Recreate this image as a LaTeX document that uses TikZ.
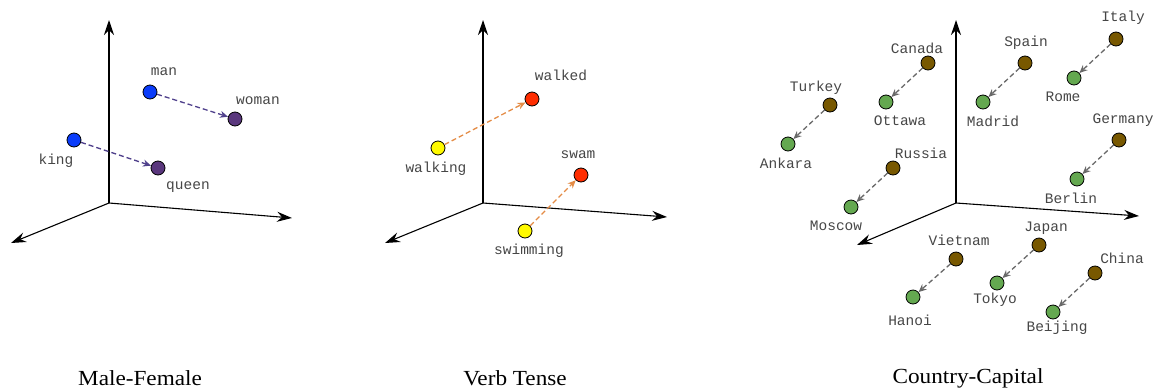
\documentclass[tikz,border=0pt]{standalone}
\usepackage{fontspec}
\setmainfont{Liberation Serif}
\newfontfamily\courierfont{Liberation Mono}
\usetikzlibrary{arrows.meta}
\definecolor{kblue}{RGB}{10,60,250}
\definecolor{kpurple}{RGB}{90,55,125}
\definecolor{karrowA}{RGB}{80,65,140}
\definecolor{kyellow}{RGB}{255,250,0}
\definecolor{kred}{RGB}{255,45,0}
\definecolor{korange}{RGB}{228,140,70}
\definecolor{kbrown}{RGB}{120,88,0}
\definecolor{kgreen}{RGB}{100,168,80}
\definecolor{kgray}{RGB}{105,105,105}
\definecolor{ktext}{RGB}{70,70,70}
\newcommand\ktitle[1]{\scalebox{1.08}[1]{#1}}
\tikzset{
  dot/.style={circle,draw=black,line width=0.8pt,minimum size=14pt,inner sep=0pt},
  word/.style={font=\courierfont\fontsize{14.5}{16}\selectfont,text=ktext,inner sep=0pt},
  title/.style={font=\fontsize{21.5}{24}\selectfont,inner sep=0pt},
  axis/.style={line width=1.1pt,-{Stealth[length=15pt,width=10pt,inset=5pt]}},
  vec/.style={dashed,dash pattern=on 5pt off 3pt,line width=1.3pt,-{Stealth[length=8pt,width=7pt]}},
}
\begin{document}
\begin{tikzpicture}[x=1pt,y=-1pt]
\useasboundingbox (0,0) rectangle (1157,389);
% ---------- Panel 1 ----------
\coordinate (o1) at (109,203);
\coordinate (u1) at (109,20);
\coordinate (r1) at (292,218);
\coordinate (l1) at (11,243);
\draw[axis] (o1) -- (u1);
\draw[axis] (o1) -- (r1);
\draw[axis] (o1) -- (l1);
\node[dot,fill=kblue] (man) at (150,92) {};
\node[dot,fill=kpurple] (woman) at (235,119) {};
\node[dot,fill=kblue] (king) at (74,140) {};
\node[dot,fill=kpurple] (queen) at (158,168) {};
\node[word] (tman) at (164,72) {man};
\node[word] (twoman) at (258,101) {woman};
\node[word] (tking) at (56,161) {king};
\node[word] (tqueen) at (188,187) {queen};
\draw[vec,draw=karrowA] (man) -- (woman);
\draw[vec,draw=karrowA] (king) -- (queen);
\node[title] (t1) at (140,378) {\ktitle{Male-Female}};
% ---------- Panel 2 ----------
\coordinate (o2) at (483,203);
\coordinate (u2) at (483,20);
\coordinate (r2) at (667,217);
\coordinate (l2) at (385,243);
\draw[axis] (o2) -- (u2);
\draw[axis] (o2) -- (r2);
\draw[axis] (o2) -- (l2);
\node[dot,fill=kred] (walked) at (532,99) {};
\node[dot,fill=kyellow] (walking) at (438,148) {};
\node[dot,fill=kred] (swam) at (581,175) {};
\node[dot,fill=kyellow] (swimming) at (525,231) {};
\node[word] (twalked) at (561,75) {walked};
\node[word] (twalking) at (436,169) {walking};
\node[word] (tswam) at (578,155) {swam};
\node[word] (tswimming) at (529,251) {swimming};
\draw[vec,draw=korange] (walking) -- (walked);
\draw[vec,draw=korange] (swimming) -- (swam);
\node[title] (t2) at (515,378) {\ktitle{Verb Tense}};
% ---------- Panel 3 ----------
\coordinate (o3) at (956,203);
\coordinate (u3) at (956,20);
\coordinate (r3) at (1139,216);
\coordinate (l3) at (857,245);
\draw[axis] (o3) -- (u3);
\draw[axis] (o3) -- (r3);
\draw[axis] (o3) -- (l3);
\foreach \n/\x/\y/\lx/\ly in {
  Italy/1116/39/1123/18, Spain/1025/63/1026/43, Canada/928/63/917/48,
  Turkey/830/105/816/88, Russia/893/168/921/153, Germany/1119/140/1123/120,
  Vietnam/956/259/959/240, Japan/1039/245/1046/228, China/1095/273/1122/258}{
  \node[dot,fill=kbrown] (\n) at (\x,\y) {};
  \node[word] (t\n) at (\lx,\ly) {\n};
}
\foreach \n/\x/\y/\lx/\ly in {
  Rome/1074/78/1063/97, Madrid/983/102/993/121, Ottawa/886/102/900/121,
  Ankara/788/144/786/163, Moscow/851/207/836/226, Berlin/1077/179/1071/198,
  Hanoi/913/297/910/320, Tokyo/997/283/995/300, Beijing/1053/312/1057/328}{
  \node[dot,fill=kgreen] (\n) at (\x,\y) {};
  \node[word] (t\n) at (\lx,\ly) {\n};
}
\foreach \a/\b in {Italy/Rome, Spain/Madrid, Canada/Ottawa, Turkey/Ankara,
  Russia/Moscow, Germany/Berlin, Vietnam/Hanoi, Japan/Tokyo, China/Beijing}{
  \draw[vec,draw=kgray] (\a) -- (\b);
}
\node[title] (t3) at (968,378) {\ktitle{Country-Capital}};
\end{tikzpicture}
\end{document}
